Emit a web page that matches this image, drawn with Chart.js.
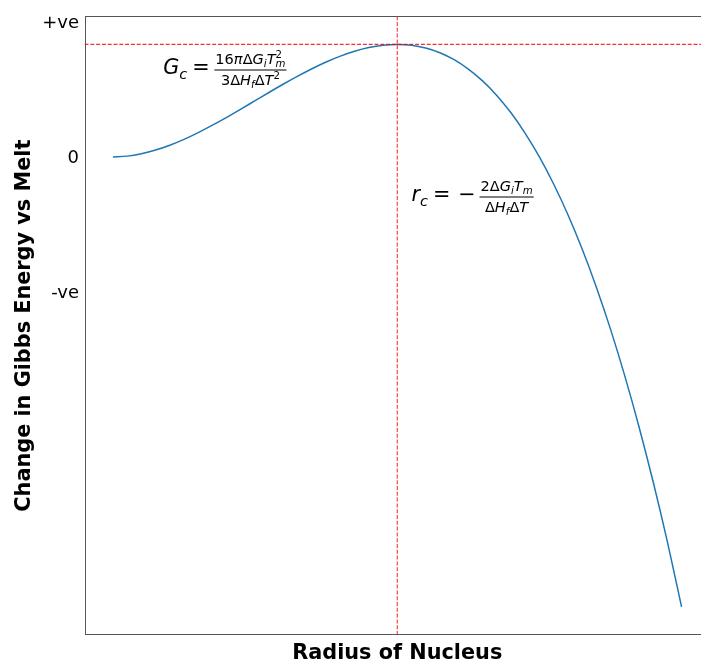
<!DOCTYPE html>
<html>
<head>
<meta charset="utf-8">
<script src="https://cdn.jsdelivr.net/npm/chart.js@4/dist/chart.umd.min.js"></script>
<style>
  html, body { margin: 0; padding: 0; background: #fff; overflow: hidden; }
</style>
</head>
<body>
<canvas id="grafico" width="710" height="662"></canvas>
<script>
// nucleus radius (arbitrary units) and free energy change (peak = 1)
const radius = [0, 0.05, 0.1, 0.15, 0.2, 0.25, 0.3, 0.35, 0.4, 0.45, 0.5,
                0.55, 0.6, 0.65, 0.7, 0.75, 0.8, 0.85, 0.9, 0.95, 1.0,
                1.05, 1.1, 1.15, 1.2, 1.25, 1.3, 1.35, 1.4, 1.45, 1.5,
                1.55, 1.6, 1.65, 1.7, 1.75, 1.8, 1.85, 1.9, 1.95, 2.0];
const gibbs = [0, 0.007, 0.028, 0.061, 0.104, 0.156, 0.216, 0.282, 0.352, 0.425, 0.50,
               0.575, 0.648, 0.718, 0.784, 0.844, 0.896, 0.939, 0.972, 0.993, 1.00,
               0.993, 0.968, 0.926, 0.864, 0.781, 0.676, 0.547, 0.392, 0.210, 0.00,
               -0.241, -0.512, -0.817, -1.156, -1.531, -1.944, -2.396, -2.888, -3.420, -4.00];
const yTicks = [1.2, 0, -1.2];
const yTickLabels = ["+ve", "0", "-ve"];
const xLabel = "Radius of Nucleus";
const yLabel = "Change in Gibbs Energy vs Melt";

const xMin = -0.1, xMax = 2.1;
const yMin = -4.25, yMax = 1.25;

// critical point = top of the curve
const iPeak = gibbs.indexOf(Math.max(...gibbs));
const rc = radius[iPeak];
const gc = gibbs[iPeak];

const FONT = '"DejaVu Sans"';
const ctx = document.getElementById("grafico").getContext("2d");

function setFont(c, size, italic) {
    c.font = (italic ? "italic " : "") + size + "px " + FONT;
}

// draws a row of math pieces, returns the x where it ends
function mathRow(c, pieces, size, x, y, draw) {
    for (const p of pieces) {
        setFont(c, size, p.i);
        if (draw) c.fillText(p.t, x, y);
        x += c.measureText(p.t).width;
        const small = size * 0.7;
        let w = 0;
        if (p.sub) {
            setFont(c, small, true);
            if (draw) c.fillText(p.sub, x, y + size * 0.22);
            w = c.measureText(p.sub).width;
        }
        if (p.sup) {
            setFont(c, small, false);
            if (draw) c.fillText(p.sup, x, y - size * 0.42);
            w = Math.max(w, c.measureText(p.sup).width);
        }
        x += w + (p.gap || 0) * size;
    }
    return x;
}

function mathFrac(c, num, den, size, x, base) {
    const s = size * 0.7;
    const wn = mathRow(c, num, s, 0, 0, false);
    const wd = mathRow(c, den, s, 0, 0, false);
    const w = Math.max(wn, wd) + 2;
    const barY = base - 0.22 * size;
    mathRow(c, num, s, x + (w - wn) / 2, barY - 0.27 * size, true);
    mathRow(c, den, s, x + (w - wd) / 2, barY + 0.74 * size, true);
    c.fillRect(x, Math.round(barY) - 0.5, w, 1);
}

const formulas = [
    {
        x: 0.177, y: 0.735,
        lead: [{ t: "G", i: true, sub: "c", gap: 0.24 }, { t: "=", gap: 0.22 }],
        num: [{ t: "16" }, { t: "π", i: true }, { t: "Δ" }, { t: "G", i: true, sub: "i" }, { t: "T", i: true, sub: "m", sup: "2" }],
        den: [{ t: "3Δ" }, { t: "H", i: true, sub: "f" }, { t: "Δ" }, { t: "T", i: true, sup: "2" }]
    },
    {
        x: 1.05, y: -0.395,
        lead: [{ t: "r", i: true, sub: "c", gap: 0.24 }, { t: "=", gap: 0.38 }, { t: "−", gap: 0.18 }],
        num: [{ t: "2Δ" }, { t: "G", i: true, sub: "i" }, { t: "T", i: true, sub: "m" }],
        den: [{ t: "Δ" }, { t: "H", i: true, sub: "f" }, { t: "Δ" }, { t: "T", i: true }]
    }
];

const framePlugin = {
    id: "frame",
    afterDatasetsDraw(chart) {
        const a = chart.chartArea;
        const c = chart.ctx;
        c.save();
        c.strokeStyle = "#555";
        c.lineWidth = 1;
        c.strokeRect(Math.round(a.left) + 0.5, Math.round(a.top) + 0.5,
                     Math.round(a.right - a.left), Math.round(a.bottom - a.top) - 1);
        c.restore();
    }
};

const formulaPlugin = {
    id: "formulas",
    afterDraw(chart) {
        const c = chart.ctx;
        const sx = chart.scales.x, sy = chart.scales.y;
        c.save();
        c.fillStyle = "#000";
        c.textBaseline = "alphabetic";
        c.textAlign = "left";
        const size = 20.8;
        formulas.forEach(f => {
            const x0 = sx.getPixelForValue(f.x);
            const base = sy.getPixelForValue(f.y);
            const x1 = mathRow(c, f.lead, size, x0, base, true);
            mathFrac(c, f.num, f.den, size, x1, base);
        });
        c.restore();
    }
};

const dashed = "rgba(240,0,0,0.8)";

new Chart(ctx, {
    type: "line",
    data: {
        datasets: [
            {
                data: [{ x: xMin, y: gc }, { x: xMax, y: gc }],
                borderColor: dashed, borderWidth: 1.1, borderDash: [4, 1.8],
                pointRadius: 0, order: 1
            },
            {
                data: [{ x: rc, y: yMin }, { x: rc, y: yMax }],
                borderColor: dashed, borderWidth: 1.1, borderDash: [4, 1.8],
                pointRadius: 0, order: 1
            },
            {
                data: radius.map((r, i) => ({ x: r, y: gibbs[i] })),
                borderColor: "#1f77b4", borderWidth: 1.5,
                pointRadius: 0, cubicInterpolationMode: "monotone", order: 2
            }
        ]
    },
    options: {
        responsive: false,
        animation: false,
        devicePixelRatio: 1,
        layout: { padding: { top: 15, right: 0, left: 0, bottom: 0 } },
        plugins: { legend: { display: false }, tooltip: { enabled: false } },
        scales: {
            x: {
                type: "linear", min: xMin, max: xMax,
                grid: { display: false, drawTicks: false },
                border: { display: false },
                ticks: { display: false },
                title: {
                    display: true, text: xLabel, color: "#000",
                    font: { family: FONT, size: 20.8, weight: "bold", lineHeight: 0.8 },
                    padding: { top: 0, bottom: 0 }
                },
                afterFit: s => { s.height = 27; }
            },
            y: {
                min: yMin, max: yMax,
                afterBuildTicks: s => { s.ticks = yTicks.map(v => ({ value: v })); },
                grid: { display: false, drawTicks: false },
                border: { display: false },
                ticks: {
                    color: "#000", padding: 5.5, labelOffset: 1.5,
                    font: { family: FONT, size: 18 },
                    callback: v => yTickLabels[yTicks.indexOf(v)]
                },
                title: {
                    display: true, text: yLabel, color: "#000",
                    font: { family: FONT, size: 20.8, weight: "bold", lineHeight: 1.2 },
                    padding: { top: 12.5, bottom: 0 }
                },
                afterFit: s => { s.width = 84.5; }
            }
        }
    },
    plugins: [framePlugin, formulaPlugin]
});
</script>
</body>
</html>
